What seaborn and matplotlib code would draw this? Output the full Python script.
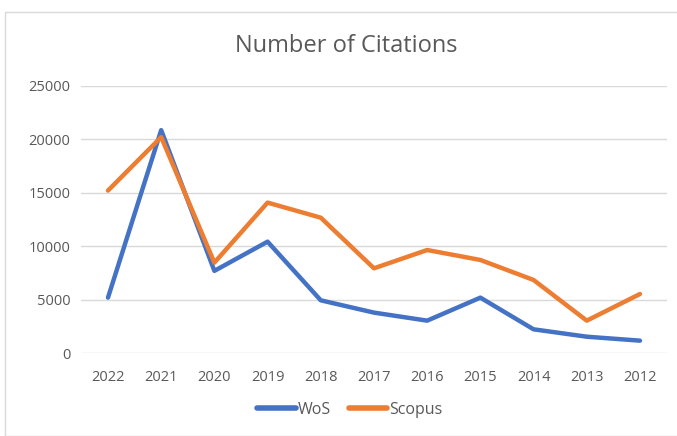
import pandas as pd
import matplotlib.pyplot as plt
import matplotlib.patches as mpatches
import seaborn as sns

# Data
years = ["2022", "2021", "2020", "2019", "2018", "2017", "2016", "2015", "2014", "2013", "2012"]
wos = [5200, 20850, 7700, 10430, 4950, 3800, 3050, 5200, 2240, 1550, 1180]
scopus = [15200, 20200, 8470, 14080, 12670, 7940, 9650, 8720, 6850, 3050, 5540]


def main():
    df = pd.DataFrame({"year": years * 2,
                       "citations": wos + scopus,
                       "source": ["WoS"] * len(years) + ["Scopus"] * len(years)})

    sns.set_style("white")
    plt.rcParams["font.family"] = ["Open Sans", "DejaVu Sans"]

    fig = plt.figure(figsize=(6.77, 4.36), dpi=100)
    ax = fig.add_axes([0.1202, 0.1897, 0.8644, 0.6137])

    # outer chart border
    fig.patches.append(mpatches.Rectangle((5 / 677, 0), 1, 1 - 12 / 436,
                                          transform=fig.transFigure, fill=False,
                                          edgecolor="#D9D9D9", linewidth=1))

    sns.lineplot(data=df, x="year", y="citations", hue="source",
                 palette={"WoS": "#4472C4", "Scopus": "#ED7D31"},
                 linewidth=3.2, sort=False, ax=ax)

    ax.set_xlim(-0.5, len(years) - 0.5)
    ax.set_ylim(0, 25000)
    ax.set_yticks(range(0, 25001, 5000))
    ax.yaxis.grid(True, color="#D9D9D9", linewidth=1)
    ax.set_axisbelow(True)
    for s in ax.spines.values():
        s.set_visible(False)
    ax.tick_params(axis="both", length=0, labelsize=10.5, colors="#595959", pad=8)
    ax.tick_params(axis="x", pad=12)
    ax.set_xlabel("")
    ax.set_ylabel("")

    fig.text(0.512, 0.895, "Number of Citations", ha="center", va="center",
             fontsize=17, color="#595959")

    leg = ax.legend(title=None, loc="center", bbox_to_anchor=(0.459, -0.212),
                    ncol=2, frameon=False, fontsize=11.5, handlelength=2.4,
                    handletextpad=0.15, columnspacing=1.1, labelcolor="#595959")
    for line in leg.get_lines():
        line.set_linewidth(4)

    fig.savefig("out.png", dpi=100)


if __name__ == "__main__":
    main()
